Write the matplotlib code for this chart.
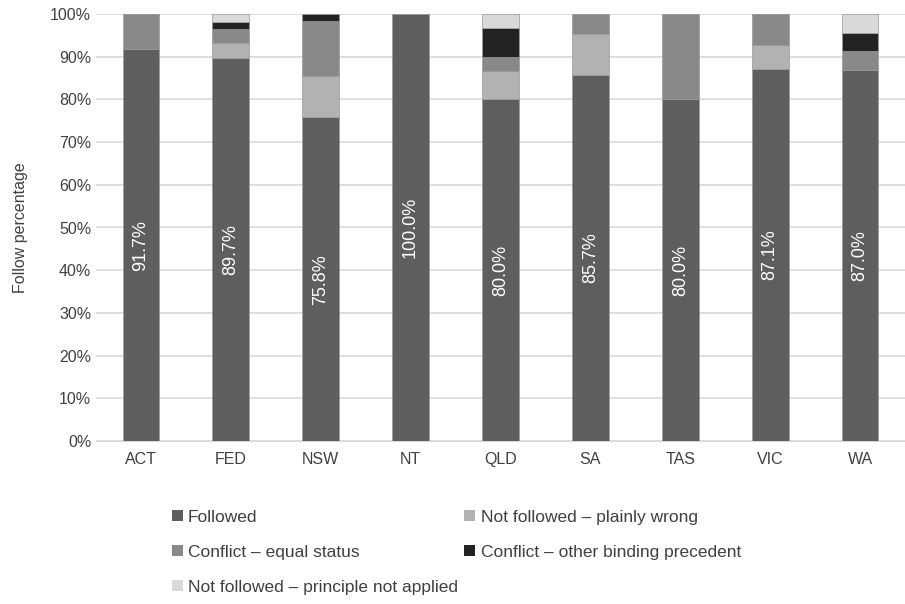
import matplotlib
matplotlib.use("Agg")
import matplotlib.pyplot as plt
import numpy as np

categories = ["ACT", "FED", "NSW", "NT", "QLD", "SA", "TAS", "VIC", "WA"]
followed = [91.7, 89.7, 75.8, 100.0, 80.0, 85.7, 80.0, 87.1, 87.0]
plainly_wrong = [0.0, 3.4, 9.7, 0.0, 6.7, 9.5, 0.0, 5.7, 0.0]
equal_status = [8.3, 3.4, 12.9, 0.0, 3.3, 4.8, 20.0, 7.2, 4.3]
other_binding = [0.0, 1.7, 1.6, 0.0, 6.7, 0.0, 0.0, 0.0, 4.3]
not_applied = [0.0, 1.7, 0.0, 0.0, 3.3, 0.0, 0.0, 0.0, 4.4]

series = [
    ("Followed", followed, "#5e5e5e"),
    ("Not followed \u2013 plainly wrong", plainly_wrong, "#b2b2b2"),
    ("Conflict \u2013 equal status", equal_status, "#898989"),
    ("Conflict \u2013 other binding precedent", other_binding, "#222222"),
    ("Not followed \u2013 principle not applied", not_applied, "#d9d9d9"),
]

plt.rcParams['font.family'] = ['Liberation Sans', 'DejaVu Sans']
fig = plt.figure(figsize=(9.05, 6.04), dpi=100)
ax = fig.add_axes([96/905, 1-441/604, 809/905, 427/604])

x = np.arange(len(categories))
bottom = np.zeros(len(categories))
handles = []
for name, vals, col in series:
    v = np.array(vals)
    b = ax.bar(x, v, 0.41, bottom=bottom, color=col, edgecolor="#9a9a9a",
               linewidth=0.5, label=name, zorder=3)
    handles.append(b)
    bottom += v

for i, v in enumerate(followed):
    ax.text(x[i], v / 2, f"{v:.1f}%", rotation=90, ha="center", va="center",
            color="white", fontsize=13, zorder=4)

ax.set_xlim(-0.5, 8.5)
ax.set_ylim(0, 100)
ax.set_yticks(np.arange(0, 101, 10))
ax.set_yticklabels([f"{t}%" for t in range(0, 101, 10)])
ax.set_xticks(x)
ax.set_xticklabels(categories)
ax.tick_params(axis="both", length=0, labelsize=11.5, colors="#404040")
ax.tick_params(axis="x", pad=8)
ax.yaxis.grid(True, color="#d9d9d9", linewidth=1.2, zorder=0)
for s in ["top", "right", "left"]:
    ax.spines[s].set_visible(False)
ax.spines["bottom"].set_color("#d9d9d9")
ax.set_ylabel("Follow percentage", fontsize=11.5, color="#404040", labelpad=16)

# legend filled row-wise: reorder for matplotlib's column-wise filling
order = [0, 2, 4, 1, 3]
leg = fig.legend(handles=[handles[i] for i in order],
                 labels=[series[i][0] for i in order], ncol=2,
                 loc="upper left", bbox_to_anchor=(156/905, 1-494/604), frameon=False,
                 fontsize=12.5, handlelength=0.65, handleheight=0.65, handletextpad=0.3,
                 columnspacing=0.35, labelspacing=1.15, labelcolor="#404040")
for p in leg.get_patches():
    p.set_edgecolor("none")

fig.savefig("out.png", dpi=100)
